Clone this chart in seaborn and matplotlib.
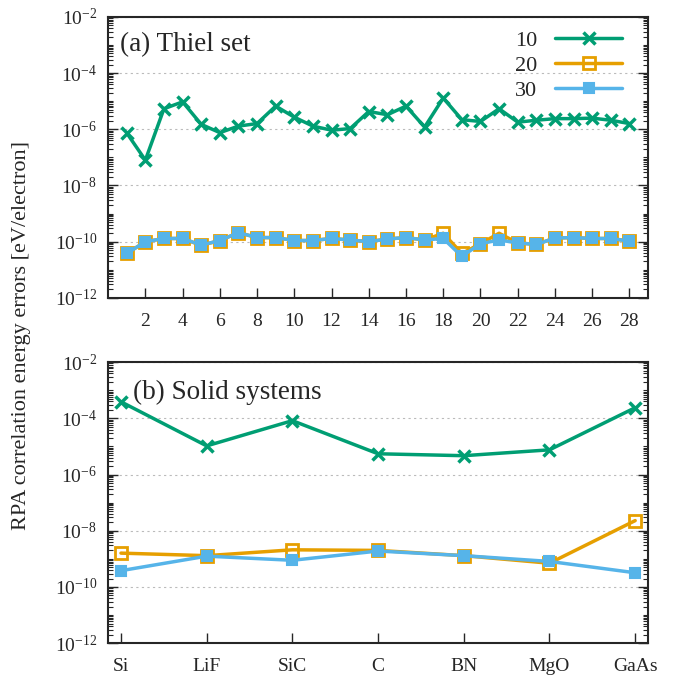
import numpy as np
import pandas as pd
import matplotlib
matplotlib.use('Agg')
import matplotlib.pyplot as plt
import matplotlib.ticker as mticker
import seaborn as sns

# Data
thiel_idx = list(range(1, 29))
thiel_10 = [7.4e-7, 8e-8, 5.4e-6, 9.5e-6, 1.5e-6, 7.6e-7, 1.3e-6, 1.6e-6, 6.7e-6, 2.7e-6,
            1.3e-6, 9.3e-7, 1.06e-6, 4.3e-6, 3.3e-6, 6.7e-6, 1.2e-6, 1.3e-5, 2.2e-6, 1.9e-6,
            5.4e-6, 1.8e-6, 2.1e-6, 2.4e-6, 2.4e-6, 2.5e-6, 2.1e-6, 1.6e-6]
thiel_20 = [3.8e-11, 1.0e-10, 1.3e-10, 1.3e-10, 7.4e-11, 1.1e-10, 2.1e-10, 1.4e-10, 1.4e-10, 1.1e-10,
            1.1e-10, 1.3e-10, 1.15e-10, 1.0e-10, 1.25e-10, 1.4e-10, 1.15e-10, 2.0e-10, 3.8e-11, 8.5e-11,
            2.0e-10, 9e-11, 8e-11, 1.35e-10, 1.4e-10, 1.3e-10, 1.3e-10, 1.05e-10]
thiel_30 = [3.8e-11, 1.0e-10, 1.3e-10, 1.3e-10, 7.6e-11, 1.1e-10, 2.1e-10, 1.4e-10, 1.4e-10, 1.1e-10,
            1.1e-10, 1.3e-10, 1.15e-10, 1.0e-10, 1.25e-10, 1.4e-10, 1.15e-10, 1.3e-10, 3.0e-11, 8.5e-11,
            1.15e-10, 9e-11, 8e-11, 1.35e-10, 1.4e-10, 1.3e-10, 1.3e-10, 1.05e-10]

solids = ['Si', 'LiF', 'SiC', 'C', 'BN', 'MgO', 'GaAs']
solid_10 = [3.9e-4, 1.05e-5, 8.3e-5, 5.5e-6, 4.7e-6, 7.6e-6, 2.4e-4]
solid_20 = [1.6e-9, 1.3e-9, 2.1e-9, 2.0e-9, 1.3e-9, 7e-10, 2.3e-8]
solid_30 = [3.8e-10, 1.25e-9, 8.9e-10, 1.9e-9, 1.3e-9, 8.1e-10, 3.2e-10]

grid_labels = ['10', '20', '30']
colors = ['#009E73', '#E69F00', '#56B4E9']
y_major = [1e-12, 1e-10, 1e-8, 1e-6, 1e-4, 1e-2]

sns.set_theme(style='ticks')
plt.rcParams['font.family'] = ['Liberation Serif', 'DejaVu Serif']
plt.rcParams['mathtext.fontset'] = 'custom'
plt.rcParams['mathtext.rm'] = 'Liberation Serif'
plt.rcParams['mathtext.it'] = 'Liberation Serif:italic'
plt.rcParams['mathtext.default'] = 'rm'

styles = [
    dict(marker='x', markersize=9, markeredgewidth=2.5),
    dict(marker='s', markersize=8, markeredgewidth=2, markerfacecolor='none'),
    dict(marker='s', markersize=7, markeredgewidth=1.5),
]

fig = plt.figure(figsize=(6.8, 6.77), dpi=100)
ax1 = fig.add_axes([0.159, 0.560, 0.794, 0.415])
ax2 = fig.add_axes([0.159, 0.050, 0.794, 0.415])

top = pd.DataFrame({'idx': thiel_idx, '10': thiel_10, '20': thiel_20, '30': thiel_30})
bot = pd.DataFrame({'pos': range(len(solids)), '10': solid_10, '20': solid_20, '30': solid_30})

for lab, col, st in zip(grid_labels, colors, styles):
    sns.lineplot(data=top, x='idx', y=lab, ax=ax1, color=col, linewidth=2.5,
                 label=lab, markeredgecolor=col, **st)
    sns.lineplot(data=bot, x='pos', y=lab, ax=ax2, color=col, linewidth=2.5,
                 legend=False, markeredgecolor=col, **st)

minor = [m * 10.0 ** e for e in range(-12, -2) for m in range(1, 10)] + [1e-2]
for ax in (ax1, ax2):
    ax.set_yscale('log')
    ax.set_ylim(1e-12, 1e-2)
    ax.set_yticks(y_major)
    ax.set_yticklabels([r'$10^{%d}$' % round(np.log10(v)) for v in y_major])
    ax.set_yticks([m for m in minor if m not in y_major], minor=True)
    ax.yaxis.set_minor_formatter(mticker.NullFormatter())
    ax.grid(axis='y', which='major', color='#bbbbbb', linestyle=(0, (2, 3)), linewidth=0.8)
    ax.tick_params(axis='both', which='major', direction='in', length=7, width=1,
                   labelsize=14, right=True, pad=8)
    ax.tick_params(axis='x', which='major', pad=11)
    ax.tick_params(axis='y', which='minor', direction='in', length=3.5, width=0.8, right=True)
    ax.tick_params(axis='x', which='minor', bottom=False, top=False)
    for s in ax.spines.values():
        s.set_linewidth(1.5)
    ax.set_xlabel('')
    ax.set_ylabel('')

ax1.set_xlim(0, 29)
ax1.set_xticks(range(2, 29, 2))
ax2.set_xlim(-0.15, 6.15)
ax2.set_xticks(range(len(solids)))
ax2.set_xticklabels(solids)

ax1.text(0.022, 0.90, '(a) Thiel set', transform=ax1.transAxes, fontsize=19.5, va='center')
ax2.text(0.046, 0.893, '(b) Solid systems', transform=ax2.transAxes, fontsize=19.5, va='center')

leg = ax1.legend(loc='upper right', bbox_to_anchor=(0.968, 0.985), frameon=False,
                 markerfirst=False, fontsize=16, handlelength=3.0, labelspacing=0.2,
                 borderaxespad=0.0)

fig.text(0.032, 0.505, 'RPA correlation energy errors [eV/electron]', rotation=90,
         va='center', ha='center', fontsize=16)

fig.savefig('out.png', dpi=100)
